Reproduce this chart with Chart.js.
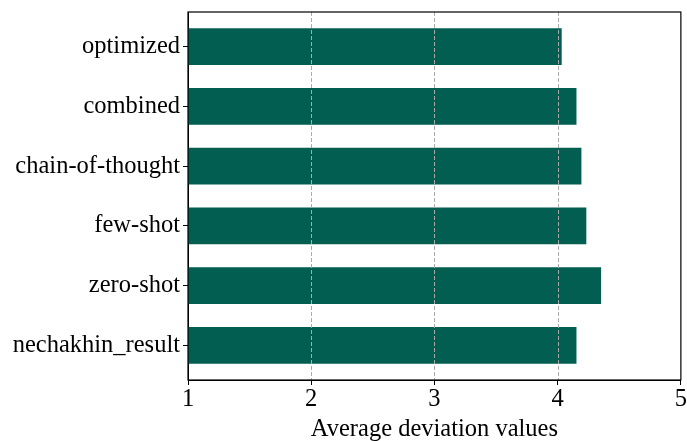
<!DOCTYPE html>
<html>
<head>
<meta charset="utf-8">
<script src="https://cdn.jsdelivr.net/npm/chart.js@4/dist/chart.umd.min.js"></script>
<style>
  html, body { margin: 0; padding: 0; background: #fff; }
  #wrap { width: 687px; height: 441px; }
</style>
</head>
<body>
<div id="wrap"><canvas id="chartDeviation"></canvas></div>
<script>
// bottom to top, like the original barh
const methods = ['nechakhin_result', 'zero-shot', 'few-shot', 'chain-of-thought', 'combined', 'optimized']
const deviation = [4.15, 4.35, 4.23, 4.19, 4.15, 4.03]
const xTicks = [1, 2, 3, 4, 5]

const FONT = "'Liberation Serif', 'Times New Roman', serif"

// frame and dashed grid drawn on top of the bars
const framePlugin = {
  id: 'frame',
  afterDatasetsDraw(chart) {
    const { ctx, chartArea: a, scales } = chart
    ctx.save()
    ctx.strokeStyle = '#aaaaaa'
    ctx.lineWidth = 1
    ctx.setLineDash([4, 2])
    xTicks.slice(1, -1).forEach(v => {
      const x = Math.round(scales.x.getPixelForValue(v)) + 0.5
      ctx.beginPath()
      ctx.moveTo(x, a.top)
      ctx.lineTo(x, a.bottom)
      ctx.stroke()
    })
    ctx.setLineDash([])
    ctx.strokeStyle = '#000'
    ctx.lineWidth = 1.2
    ctx.strokeRect(a.left, a.top, a.right - a.left, a.bottom - a.top)
    ctx.restore()
  },
}

const ctx = document.getElementById('chartDeviation').getContext('2d')
new Chart(ctx, {
  type: 'bar',
  data: {
    datasets: [
      {
        data: deviation.map((v, i) => ({ x: v, y: i })),
        backgroundColor: '#015e50',
        borderWidth: 0,
        barThickness: 36,
      },
    ],
  },
  options: {
    indexAxis: 'y',
    responsive: true,
    maintainAspectRatio: false,
    animation: false,
    layout: { padding: { top: 12, right: 5, left: 0, bottom: 0 } },
    plugins: { legend: { display: false }, tooltip: { enabled: false } },
    scales: {
      x: {
        type: 'linear',
        min: 1,
        max: 5,
        afterBuildTicks: scale => {
          scale.ticks = xTicks.map(v => ({ value: v }))
        },
        ticks: { color: '#000', font: { family: FONT, size: 24.5 }, padding: 0 },
        grid: { drawOnChartArea: false, drawTicks: true, tickLength: 5, color: '#000' },
        border: { display: true, color: '#000' },
        title: {
          display: true,
          text: 'Average deviation values',
          color: '#000',
          font: { family: FONT, size: 24.5 },
          padding: { top: 0, bottom: -3 },
        },
        afterFit: scale => {
          scale.height = 61
        },
      },
      y: {
        type: 'linear',
        offset: false,
        min: -0.58,
        max: 5.58,
        afterBuildTicks: scale => {
          scale.ticks = methods.map((_, i) => ({ value: i }))
        },
        ticks: {
          color: '#000',
          font: { family: FONT, size: 24.5 },
          padding: 3,
          callback: v => methods[v],
        },
        grid: { offset: false, drawOnChartArea: false, drawTicks: true, tickLength: 5, color: '#000' },
        border: { display: true, color: '#000' },
        afterFit: scale => {
          scale.width = 188
          scale.paddingTop = 0
          scale.paddingBottom = 0
        },
      },
    },
  },
  plugins: [framePlugin],
})
</script>
</body>
</html>
